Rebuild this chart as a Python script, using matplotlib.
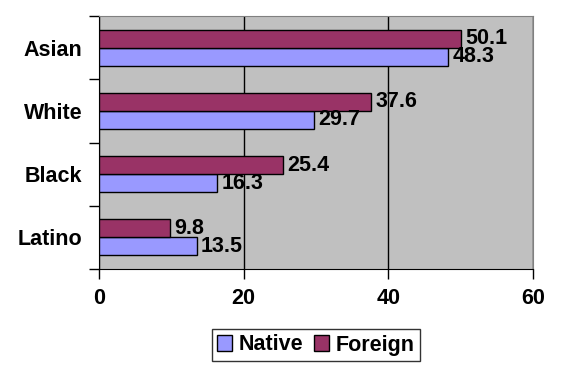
import matplotlib
matplotlib.use("Agg")
import matplotlib.pyplot as plt
import numpy as np

categories = ["Latino", "Black", "White", "Asian"]
native = [13.5, 16.3, 29.7, 48.3]
foreign = [9.8, 25.4, 37.6, 50.1]
xticks = [0, 20, 40, 60]

plt.rcParams['font.family'] = ['Liberation Sans', 'DejaVu Sans']
plt.rcParams['font.weight'] = 'bold'
FS = 15.5

fig = plt.figure(figsize=(5.63, 3.73), dpi=100)
W, H = 563, 373
ax = fig.add_axes([99 / W, 1 - 269 / H, (533 - 99) / W, (269 - 16) / H])
ax.set_facecolor('#C0C0C0')

y = np.arange(len(categories))
h = 0.286
nb = ax.barh(y - h / 2, native, height=h, color='#9999FF', edgecolor='black', linewidth=1, label='Native', zorder=3)
fb = ax.barh(y + h / 2, foreign, height=h, color='#993366', edgecolor='black', linewidth=1, label='Foreign', zorder=3)

for bars, vals in ((nb, native), (fb, foreign)):
    for b, v in zip(bars, vals):
        ax.text(v + 0.6, b.get_y() + b.get_height() / 2, f"{v:.1f}", va='center', ha='left',
                fontsize=FS, fontweight='bold', zorder=4)

ax.set_xlim(0, 60)
ax.set_ylim(-0.5, len(categories) - 0.5)
ax.set_xticks(xticks)
ax.set_xticklabels([str(t) for t in xticks], fontsize=FS, fontweight='bold')
ax.xaxis.grid(True, color='black', linewidth=1, zorder=1)
ax.set_axisbelow(True)

ax.set_yticks(np.arange(len(categories) + 1) - 0.5)
ax.set_yticklabels([])
ax.set_yticks(y, minor=True)
ax.set_yticklabels(categories, minor=True, fontsize=FS, fontweight='bold')
ax.tick_params(axis='y', which='minor', length=0, pad=12)
ax.tick_params(axis='y', which='major', length=7, width=1, direction='out')
ax.tick_params(axis='x', length=7, width=1, direction='out', pad=7)

for s in ('top', 'right'):
    ax.spines[s].set_color('#808080')
for s in ('left', 'bottom'):
    ax.spines[s].set_color('black')

leg = ax.legend(handles=[nb, fb], loc='center', bbox_to_anchor=((316 - 99) / (533 - 99), -(345 - 269) / (269 - 16)),
                ncol=2, frameon=True, fancybox=False, edgecolor='black', fontsize=FS,
                handlelength=0.7, handleheight=0.7, handletextpad=0.3, columnspacing=0.5,
                borderpad=0.25, borderaxespad=0)
leg.get_frame().set_linewidth(1)

fig.savefig("out.png", dpi=100, facecolor='white')
